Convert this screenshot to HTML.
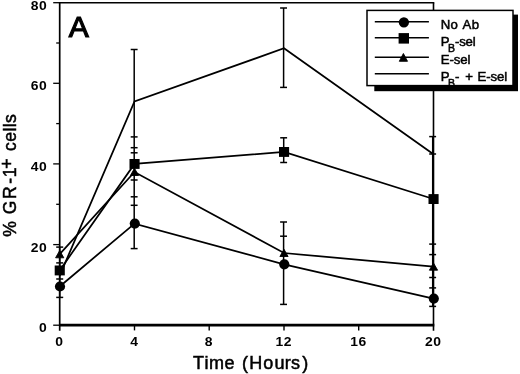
<!DOCTYPE html><html><head><meta charset="utf-8"><title>Figure A</title>
<style>html,body{margin:0;padding:0;background:#fff}svg{display:block;will-change:transform}text{font-family:"Liberation Sans",Arial,Helvetica,sans-serif;fill:#000}</style></head><body>
<svg width="520" height="374" viewBox="0 0 520 374">
<rect width="520" height="374" fill="#fff"/>
<g stroke="#000" fill="none" stroke-linecap="butt">
<path d="M58.900000000000006 2.7 H434.3" stroke-width="1.4"/>
<path d="M59.7 2.7 V330.7" stroke-width="1.7"/>
<path d="M433.5 2.7 V330.7" stroke-width="1.6"/>
<path d="M59.7 325.2 H434.3" stroke-width="2.8"/>
<path d="M53.2 325.2 H59.7" stroke-width="1.3"/>
<path d="M56.2 284.9 H59.7" stroke-width="1.3"/>
<path d="M53.2 244.6 H59.7" stroke-width="1.3"/>
<path d="M56.2 204.3 H59.7" stroke-width="1.3"/>
<path d="M53.2 163.9 H59.7" stroke-width="1.3"/>
<path d="M56.2 123.6 H59.7" stroke-width="1.3"/>
<path d="M53.2 83.3 H59.7" stroke-width="1.3"/>
<path d="M56.2 43.0 H59.7" stroke-width="1.3"/>
<path d="M53.2 2.7 H59.7" stroke-width="1.3"/>
<path d="M134.5 325.2 V330.4" stroke-width="1.4"/>
<path d="M209.2 325.2 V330.4" stroke-width="1.4"/>
<path d="M284.0 325.2 V330.4" stroke-width="1.4"/>
<path d="M358.7 325.2 V330.4" stroke-width="1.4"/>
</g>
<text transform="translate(47.4 332.1) scale(1.14 1)" font-size="12.2" font-weight="bold" letter-spacing="0.5" text-anchor="end">0</text>
<text transform="translate(47.4 251.5) scale(1.14 1)" font-size="12.2" font-weight="bold" letter-spacing="0.5" text-anchor="end">20</text>
<text transform="translate(47.4 170.8) scale(1.14 1)" font-size="12.2" font-weight="bold" letter-spacing="0.5" text-anchor="end">40</text>
<text transform="translate(47.4 90.2) scale(1.14 1)" font-size="12.2" font-weight="bold" letter-spacing="0.5" text-anchor="end">60</text>
<text transform="translate(47.4 9.6) scale(1.14 1)" font-size="12.2" font-weight="bold" letter-spacing="0.5" text-anchor="end">80</text>
<text transform="translate(59.5 345.5) scale(1.14 1)" font-size="12.2" font-weight="bold" letter-spacing="0.5" text-anchor="middle">0</text>
<text transform="translate(134.3 345.5) scale(1.14 1)" font-size="12.2" font-weight="bold" letter-spacing="0.5" text-anchor="middle">4</text>
<text transform="translate(209.0 345.5) scale(1.14 1)" font-size="12.2" font-weight="bold" letter-spacing="0.5" text-anchor="middle">8</text>
<text transform="translate(283.8 345.5) scale(1.14 1)" font-size="12.2" font-weight="bold" letter-spacing="0.5" text-anchor="middle">12</text>
<text transform="translate(358.5 345.5) scale(1.14 1)" font-size="12.2" font-weight="bold" letter-spacing="0.5" text-anchor="middle">16</text>
<text transform="translate(433.3 345.5) scale(1.14 1)" font-size="12.2" font-weight="bold" letter-spacing="0.5" text-anchor="middle">20</text>
<text x="193.1 204.5 209 224.5 235 242.1 249.3 263.3 274.6 284.8 291 302.2" y="368.8" font-size="18" stroke="#000" stroke-width="0.5">Time (Hours)</text>
<text transform="translate(16.4 236.3) rotate(-90)" font-size="17.6" stroke="#000" stroke-width="0.5"><tspan x="-0.4">% </tspan><tspan x="22">G</tspan><tspan x="37.2">R</tspan><tspan x="52.5">-</tspan><tspan x="59">1</tspan><tspan x="67.5" dy="-3.9">+ </tspan><tspan x="85.3" dy="3.9" letter-spacing="0.4">cells</tspan></text>
<text x="68.8" y="37.1" font-size="30" stroke="#000" stroke-width="1.2" stroke-linejoin="miter">A</text>
<g stroke="#000" stroke-width="1.75" fill="none" stroke-linejoin="miter">
<polyline points="59.7,286.5 134.5,223.6 284.0,264.3 433.5,298.6"/>
<polyline points="59.7,270.4 134.5,163.9 284.0,151.9 433.5,199.0"/>
<polyline points="59.7,254.2 134.5,172.0 284.0,253.0 433.5,266.7"/>
<polyline points="59.7,275.6 134.5,101.5 284.0,48.3 433.5,154.3"/>
</g>
<g stroke="#000" stroke-width="1.5" fill="none">
<path d="M59.7 247.1 V297.4"/>
<path d="M56.2 247.1 H63.2"/>
<path d="M56.2 262.9 H63.2"/>
<path d="M56.2 279.0 H63.2"/>
<path d="M56.2 297.4 H63.2"/>
<path d="M134.2 49.5 V248.6"/>
<path d="M130.7 49.5 H137.6"/>
<path d="M130.7 136.9 H137.6"/>
<path d="M130.7 147.7 H137.6"/>
<path d="M130.7 152.8 H137.6"/>
<path d="M130.7 180.0 H137.6"/>
<path d="M130.7 196.8 H137.6"/>
<path d="M130.7 205.3 H137.6"/>
<path d="M130.7 248.6 H137.6"/>
<path d="M283.6 8.0 V87.4"/>
<path d="M280.1 8.0 H287.0"/>
<path d="M280.1 87.4 H287.0"/>
<path d="M283.7 137.8 V162.5"/>
<path d="M280.2 137.8 H287.1"/>
<path d="M280.2 162.5 H287.1"/>
<path d="M283.6 222.0 V304.4"/>
<path d="M280.1 222.0 H287.0"/>
<path d="M280.1 236.2 H287.0"/>
<path d="M280.1 304.4 H287.0"/>
<path d="M432.7 136.6 V306.4"/>
<path d="M429.2 136.6 H436.1"/>
<path d="M429.2 154.0 H436.1"/>
<path d="M429.2 244.1 H436.1"/>
<path d="M429.2 254.6 H436.1"/>
<path d="M429.2 277.5 H436.1"/>
<path d="M429.2 287.9 H436.1"/>
<path d="M429.2 306.4 H436.1"/>
</g>
<g fill="#000" stroke="none">
<circle cx="60.0" cy="286.5" r="5.1"/>
<circle cx="134.8" cy="223.6" r="5.1"/>
<circle cx="284.3" cy="264.3" r="5.1"/>
<circle cx="433.8" cy="298.6" r="5.1"/>
<rect x="54.7" y="265.5" width="10.1" height="9.9"/>
<rect x="129.5" y="159.0" width="10.1" height="9.9"/>
<rect x="279.0" y="147.0" width="10.1" height="9.9"/>
<rect x="428.5" y="194.1" width="10.1" height="9.9"/>
<path d="M59.7 250.5 L63.8 257.8 H55.6 Z" stroke="#000" stroke-width="0.9" stroke-linejoin="round"/>
<path d="M134.5 168.3 L138.6 175.5 H130.4 Z" stroke="#000" stroke-width="0.9" stroke-linejoin="round"/>
<path d="M284.0 249.3 L288.1 256.5 H279.9 Z" stroke="#000" stroke-width="0.9" stroke-linejoin="round"/>
<path d="M433.5 263.0 L437.6 270.2 H429.4 Z" stroke="#000" stroke-width="0.9" stroke-linejoin="round"/>
</g>
<rect x="374.3" y="14.6" width="143.7" height="76.6" fill="#000"/>
<rect x="367" y="10.4" width="146" height="75.2" fill="#fff" stroke="#000" stroke-width="1.5"/>
<g stroke="#000" stroke-width="1.5">
<path d="M374.8 21.7 H428.9"/>
<path d="M374.8 37.7 H428.9"/>
<path d="M374.8 57.2 H428.9"/>
<path d="M374.8 73.7 H428.9"/>
</g>
<circle cx="403.90000000000003" cy="22.3" r="5.15"/>
<rect x="398.6" y="33.1" width="10.4" height="10.5"/>
<path d="M403.40000000000003 53.5 L407.5 61.3 H399.3 Z" stroke="#000" stroke-width="0.9" stroke-linejoin="round"/>
<text x="440.7" y="29.2" font-size="13.2" stroke="#000" stroke-width="0.5" letter-spacing="0.4" word-spacing="0.8">No Ab</text>
<text y="45.7" font-size="13.2" stroke="#000" stroke-width="0.5"><tspan x="440.7">P</tspan><tspan x="448" dy="6" font-size="10.5">B</tspan><tspan x="454.9" dy="-6" letter-spacing="-0.15">-sel</tspan></text>
<text x="440.7" y="64.4" font-size="13.2" stroke="#000" stroke-width="0.5" letter-spacing="-0.1">E-sel</text>
<text y="80.5" font-size="13.2" stroke="#000" stroke-width="0.5"><tspan x="440.7">P</tspan><tspan x="448" dy="6" font-size="10.5">B</tspan><tspan x="454.9" dy="-6">- </tspan><tspan x="465.3">+ </tspan><tspan x="477.6" letter-spacing="-0.1">E-sel</tspan></text>
</svg></body></html>
